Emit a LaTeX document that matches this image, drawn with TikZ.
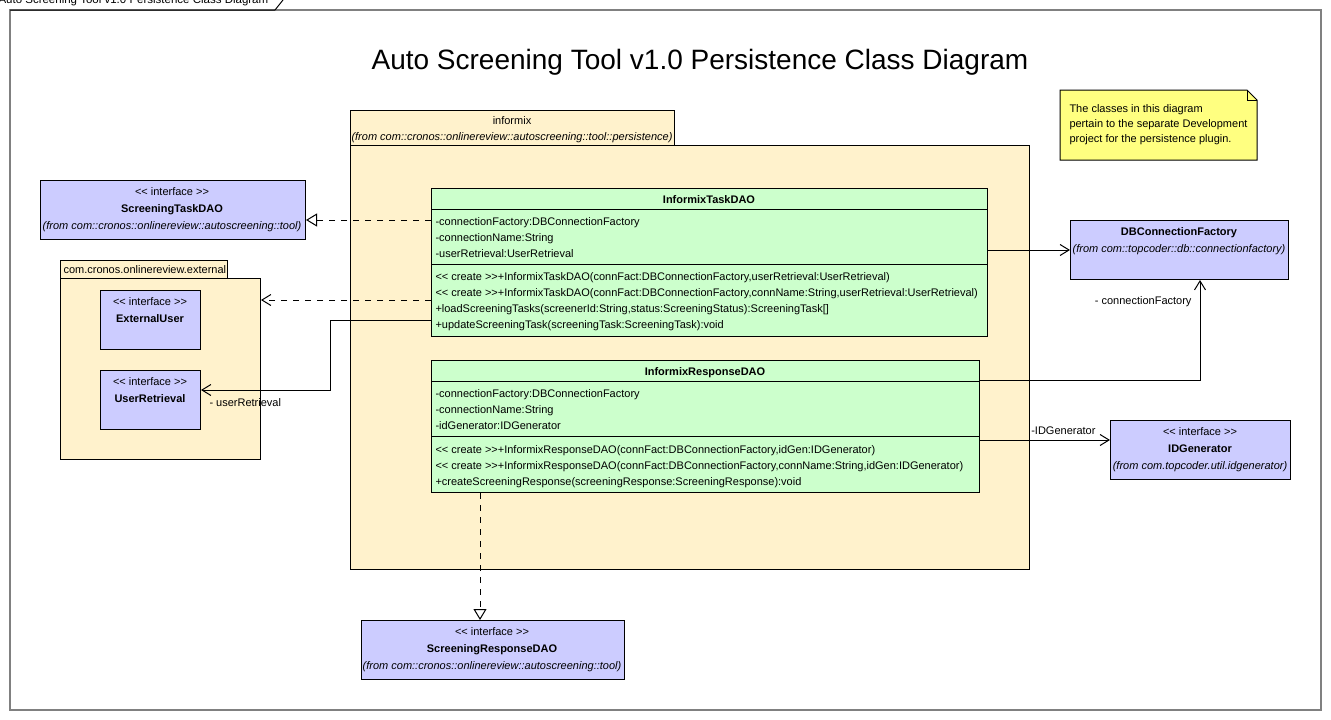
\documentclass[tikz,border=0pt]{standalone}
\usepackage{fontspec}
\setmainfont{Liberation Sans}
\usetikzlibrary{arrows.meta}

\definecolor{pkgfill}{RGB}{255,242,204}
\definecolor{clsfill}{RGB}{204,255,204}
\definecolor{ifcfill}{RGB}{204,204,255}
\definecolor{notefill}{RGB}{255,255,128}
\newcommand\stereo[1]{<{}< #1 >{}>}

\begin{document}
\begin{tikzpicture}[x=1pt, y=-1pt, line width=1pt,
    box/.style={draw, anchor=north west, inner sep=0pt},
    pkg/.style={box, fill=pkgfill},
    cls/.style={box, fill=clsfill},
    ifc/.style={box, fill=ifcfill},
    lbl/.style={font=\fontsize{11}{13}\selectfont, inner sep=0pt, text height=10pt, text depth=2pt},
    row/.style={lbl, anchor=west},
    head/.style={lbl, font=\fontsize{11}{13}\selectfont\bfseries},
    from/.style={lbl, font=\fontsize{11}{13}\selectfont\itshape},
    assoc/.style={-{Straight Barb[length=9pt,width=11pt]}},
    dep/.style={assoc, dash pattern=on 6pt off 6pt},
    real/.style={dash pattern=on 6pt off 6pt, -{Triangle[open,length=11pt,width=13pt]}}
]
\useasboundingbox (0,0) rectangle (1331,720);

% frame
\draw[gray, line width=1.5pt] (10,10) rectangle (1321,710);
\draw (10,10) -- (275,10) -- (283,0);
\node[row, anchor=base west, font=\fontsize{11.5}{13}\selectfont] (frametitle) at (-2,3) {Auto Screening Tool v1.0 Persistence Class Diagram};
\node[font=\fontsize{28}{34}\selectfont] (title) at (700,62) {Auto Screening Tool v1.0 Persistence Class Diagram};

% note
\draw[fill=notefill] (1060,90) -- (1247,90) -- (1257,100) -- (1257,160) -- (1060,160) -- cycle;
\draw (1247,90) -- (1247,100) -- (1257,100);
\foreach \y/\t in {108/The classes in this diagram, 123/pertain to the separate Development, 138/project for the persistence plugin.}
    \node[row] at (1069,\y) {\t};

% informix package
\node[pkg, minimum width=324, minimum height=35] (informixtab) at (350,110) {};
\node[pkg, minimum width=679, minimum height=424] (informix) at (350,145) {};
\node[lbl] at (512,120) {informix};
\node[from] at (512,136) {(from com::cronos::onlinereview::autoscreening::tool::persistence)};

\node[cls, minimum width=556, minimum height=148] (taskdao) at (431,188) {};
\draw (431,209) -- (987,209) (431,264) -- (987,264);
\node[head] at (709,199) {InformixTaskDAO};
\foreach \y/\t in {221/{-connectionFactory:DBConnectionFactory}, 237/{-connectionName:String}, 253/{-userRetrieval:UserRetrieval},
    276/{\stereo{create}+InformixTaskDAO(connFact:DBConnectionFactory,userRetrieval:UserRetrieval)},
    292/{\stereo{create}+InformixTaskDAO(connFact:DBConnectionFactory,connName:String,userRetrieval:UserRetrieval)},
    308/{+loadScreeningTasks(screenerId:String,status:ScreeningStatus):ScreeningTask[]},
    324/{+updateScreeningTask(screeningTask:ScreeningTask):void}}
    \node[row] at (435,\y) {\t};

\node[cls, minimum width=548, minimum height=132] (respdao) at (431,360) {};
\draw (431,381) -- (979,381) (431,436) -- (979,436);
\node[head] at (705,371) {InformixResponseDAO};
\foreach \y/\t in {393/{-connectionFactory:DBConnectionFactory}, 409/{-connectionName:String}, 425/{-idGenerator:IDGenerator},
    449/{\stereo{create}+InformixResponseDAO(connFact:DBConnectionFactory,idGen:IDGenerator)},
    465/{\stereo{create}+InformixResponseDAO(connFact:DBConnectionFactory,connName:String,idGen:IDGenerator)},
    481/{+createScreeningResponse(screeningResponse:ScreeningResponse):void}}
    \node[row] at (435,\y) {\t};

% external package
\node[pkg, minimum width=167, minimum height=18] (exttab) at (60,260) {};
\node[pkg, minimum width=200, minimum height=181] (ext) at (60,278) {};
\node[row] at (63,269) {com.cronos.onlinereview.external};
\node[ifc, minimum width=100, minimum height=59] (extuser) at (100,290) {};
\node[lbl] at (150,301) {\stereo{interface}};
\node[head] at (150,318) {ExternalUser};
\node[ifc, minimum width=100, minimum height=59] (userret) at (100,370) {};
\node[lbl] at (150,381) {\stereo{interface}};
\node[head] at (150,398) {UserRetrieval};

% interfaces and classes outside
\node[ifc, minimum width=265, minimum height=59] (stdao) at (40,180) {};
\node[lbl] at (172,191) {\stereo{interface}};
\node[head] at (172,208) {ScreeningTaskDAO};
\node[from] at (172,225) {(from com::cronos::onlinereview::autoscreening::tool)};

\node[ifc, minimum width=218, minimum height=59] (dbfact) at (1070,220) {};
\node[head] at (1179,231) {DBConnectionFactory};
\node[from] at (1179,248) {(from com::topcoder::db::connectionfactory)};

\node[ifc, minimum width=180, minimum height=59] (idgen) at (1110,420) {};
\node[lbl] at (1200,431) {\stereo{interface}};
\node[head] at (1200,448) {IDGenerator};
\node[from] at (1200,465) {(from com.topcoder.util.idgenerator)};

\node[ifc, minimum width=263, minimum height=59] (srdao) at (361,620) {};
\node[lbl] at (492,631) {\stereo{interface}};
\node[head] at (492,648) {ScreeningResponseDAO};
\node[from] at (492,665) {(from com::cronos::onlinereview::autoscreening::tool)};

% connectors
\draw[real] (taskdao.west |- 0,220) -- (stdao.east |- 0,220);
\draw[dep] (taskdao.west |- 0,300) -- (ext.east |- 0,300);
\draw[assoc] (taskdao.west |- 0,320) -- (330,320) -- (330,390) -- (userret.east |- 0,390)
    node[row, at end, xshift=8, yshift=-12] {- userRetrieval};
\draw[assoc] (taskdao.east |- 0,250) -- (dbfact.west |- 0,250);
\draw[assoc] (respdao.east |- 0,380) -| (dbfact.south -| 1200,0)
    node[row, at end, anchor=east, xshift=-8, yshift=-20] {- connectionFactory};
\draw[assoc] (respdao.east |- 0,440) -- (idgen.west |- 0,440)
    node[row, at end, anchor=east, xshift=-14, yshift=10] {-IDGenerator};
\draw[real] (respdao.south -| 480,0) -- (srdao.north -| 480,0);
\end{tikzpicture}
\end{document}
